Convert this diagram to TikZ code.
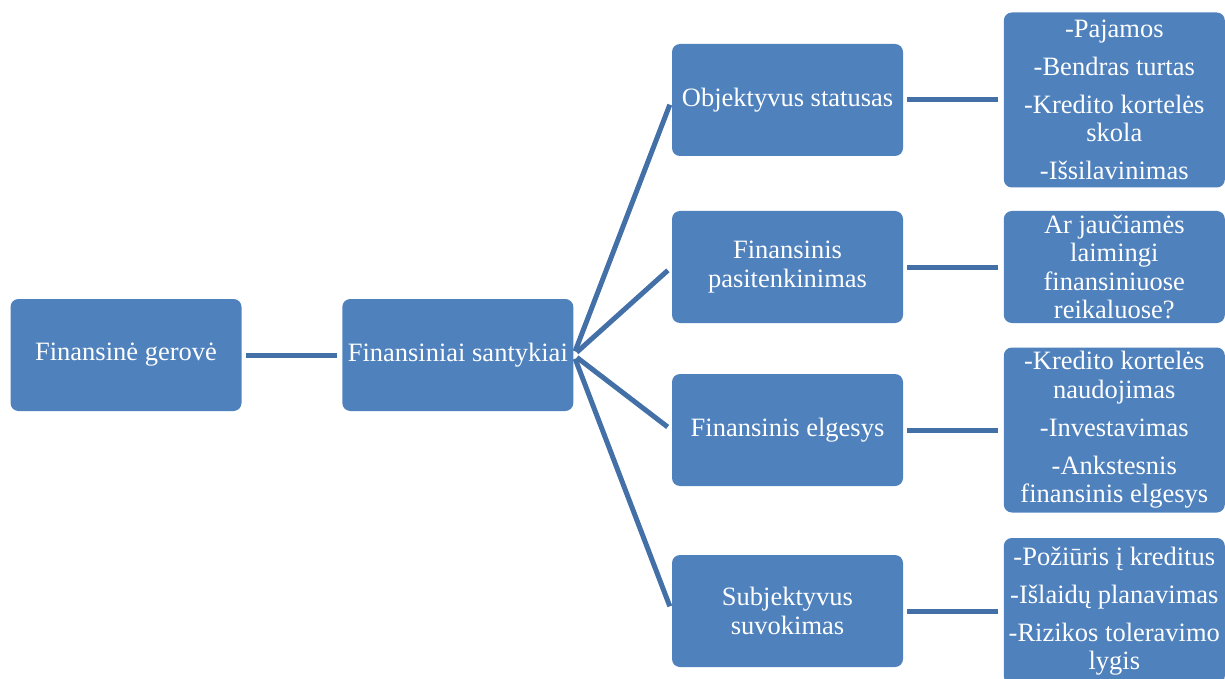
\documentclass[tikz,border=0pt]{standalone}
\usepackage{fontspec}
\setmainfont{Liberation Serif}
\usetikzlibrary{positioning}
\definecolor{boxblue}{HTML}{4F81BD}
\definecolor{linkblue}{HTML}{4470A8}

\begin{document}
\begin{tikzpicture}[x=0.5pt, y=-0.5pt,
  box/.style={fill=boxblue, rounded corners=4pt, text=white, align=center,
              inner sep=1pt, minimum width=115.5pt, minimum height=56pt,
              font=\fontsize{13.25}{14.25}\selectfont},
  item/.style={box, minimum width=110.5pt},
  link/.style={draw=linkblue, line width=2.5pt, shorten <=2pt, shorten >=2.5pt}]
  \useasboundingbox (0,0) rectangle (1225,679);

  % main chain
  \node[box] (gerove) at (126,355) {Finansinė gerovė};
  \node[box, right=50pt of gerove] (santykiai) {Finansiniai santykiai};

  % second level
  \node[box] (obj)   at (787.5,100) {Objektyvus statusas};
  \node[box] (pasit) at (787.5,267) {Finansinis\\ pasitenkinimas};
  \node[box] (elgs)  at (787.5,430) {Finansinis elgesys};
  \node[box] (suvok) at (787.5,611) {Subjektyvus\\ suvokimas};

  % lists on the right
  \node[item, minimum height=87.5pt, right=50pt of obj] (obj-list)
    {-Pajamos\\[4.75pt] -Bendras turtas\\[4.75pt] -Kredito kortelės\\ skola\\[4.75pt] -Išsilavinimas};
  \node[item, right=50pt of pasit] (pasit-list)
    {Ar jaučiamės\\ laimingi\\ finansiniuose\\ reikaluose?};
  \node[item, minimum height=82.5pt, right=50pt of elgs] (elgs-list)
    {-Kredito kortelės\\ naudojimas\\[4.75pt] -Investavimas\\[4.75pt] -Ankstesnis\\ finansinis elgesys};
  \node[item, minimum height=73pt, right=50pt of suvok] (suvok-list)
    {-Požiūris į kreditus\\[4.75pt] -Išlaidų planavimas\\[4.75pt] -Rizikos toleravimo\\ lygis};

  \draw[link] (gerove) -- (santykiai);
  \foreach \n in {obj, pasit, elgs, suvok} {
    \draw[link] (santykiai.east) -- (\n.west);
    \draw[link] (\n) -- (\n-list);
  }
\end{tikzpicture}
\end{document}
